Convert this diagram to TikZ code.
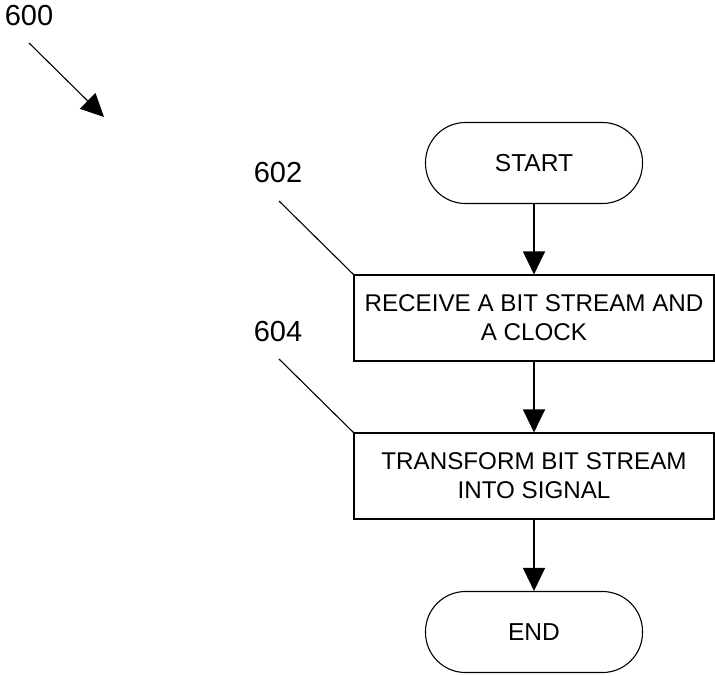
\documentclass[tikz,border=0pt]{standalone}
\usepackage{fontspec}
\setmainfont{Liberation Sans}
\usetikzlibrary{arrows.meta}
\begin{document}
\begin{tikzpicture}[x=1pt,y=-1pt,
  line width=1.1pt,
  terminal/.style={draw, rounded corners=40pt, minimum width=217pt, minimum height=81pt, font=\fontsize{24.5}{29}\selectfont},
  procbox/.style={draw, minimum width=360pt, minimum height=86pt, align=center, font=\fontsize{24.2}{29}\selectfont},
  reflabel/.style={font=\fontsize{29}{34}\selectfont},
  flow/.style={-{Triangle[length=23pt,width=22pt]}},
  leader/.style={line width=1.1pt}]
\useasboundingbox (0,0) rectangle (715,675);
\node[reflabel] (l600) at (29,16) {600};
\coordinate (a600s) at (29,43);
\coordinate (a600e) at (104,117);
\draw[flow] (a600s) -- (a600e);

\node[terminal] (start) at (534,163) {START};
\node[procbox] (s602) at (534,318) {RECEIVE A BIT STREAM AND\\A CLOCK};
\node[procbox] (s604) at (534,476) {TRANSFORM BIT STREAM\\INTO SIGNAL};
\node[terminal] (end) at (534,632) {END};

\draw[flow] (start) -- (s602);
\draw[flow] (s602) -- (s604);
\draw[flow] (s604) -- (end);

\node[reflabel] (l602) at (278,173) {602};
\node[reflabel] (l604) at (278,332) {604};
\coordinate (c602) at (279,201);
\coordinate (c604) at (279,359);
\draw[leader] (c602) -- (s602.north west);
\draw[leader] (c604) -- (s604.north west);
\end{tikzpicture}
\end{document}
